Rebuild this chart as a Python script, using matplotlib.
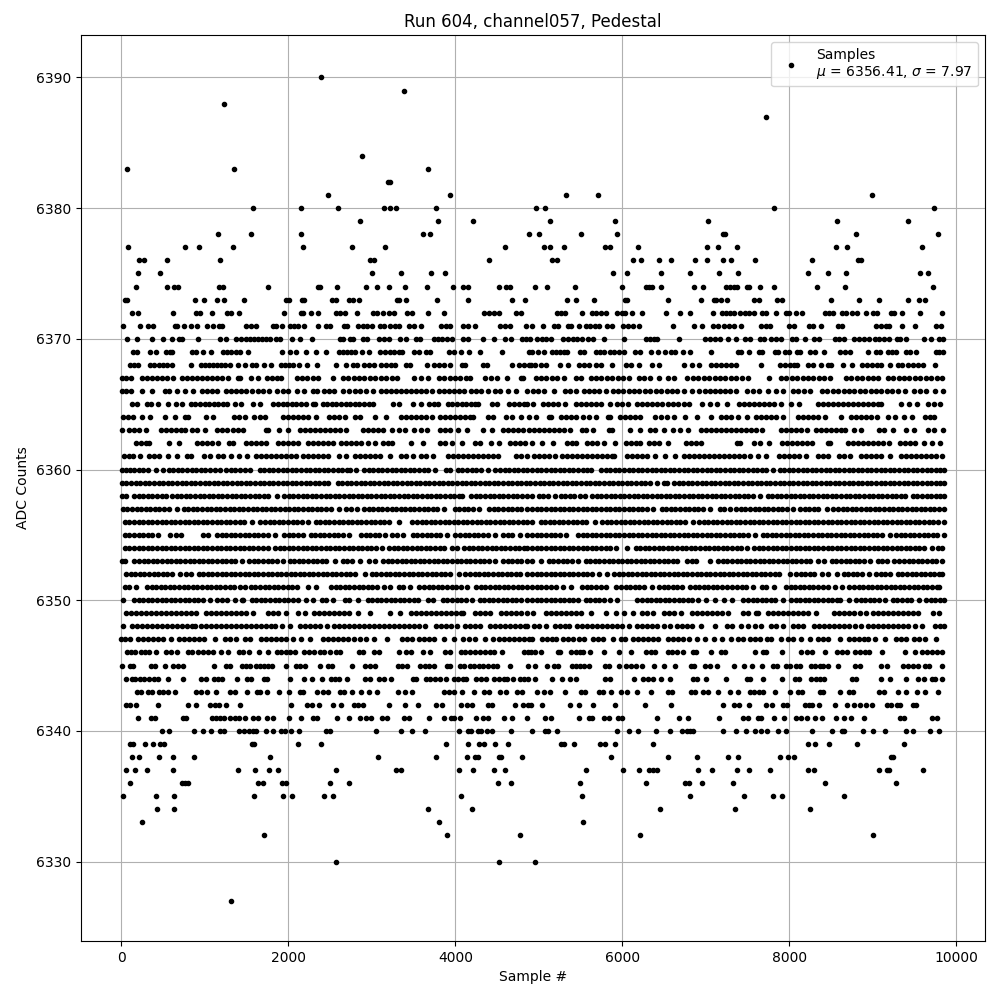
import numpy as np
import matplotlib
matplotlib.use("Agg")
import matplotlib.pyplot as plt

# sample numbers, one list per ADC level
s6390 = [2386]
s6389 = [3382]
s6388 = [1234]
s6387 = [7723]
s6384 = [2878]
s6383 = [70, 1342, 3670]
s6382 = [3190, 3214]
s6381 = [2470, 3934, 5329, 5712, 8992]
s6380 = [1570, 2146, 2590, 3142, 3214, 3286, 3766, 4970, 5078, 7819, 9734]
s6379 = [2854, 3790, 4210, 5137, 5915, 7029, 8573, 9423]
s6378 = [1162, 1546, 2146, 3610, 3694, 4882, 5006, 5509, 5940, 7208, 7232, 8800, 9782]
s6377 = [82, 766, 934, 1330, 2170, 2758, 3154, 4594, 5062, 5133, 5305, 5796, 5856, 6191, 7017,
         7149, 7376, 8561, 8693, 9590]
s6376 = [214, 274, 550, 1186, 2974, 3022, 4402, 5161, 5221, 6131, 6227, 6442, 6586, 6873, 7017,
         7208, 7304, 7591, 8273, 8824, 8860]
s6375 = [202, 466, 2998, 3346, 3706, 3874, 5892, 6059, 6466, 6813, 7161, 7388, 8225, 8465, 8680,
         9566, 9662]
s6374 = [178, 550, 634, 682, 1174, 1222, 1750, 2350, 2374, 2578, 2926, 3058, 3202, 3394, 3658,
         3970, 4090, 4150, 4522, 4606, 4654, 4958, 5101, 5437, 6000, 6286, 6322, 6358, 6466, 6861,
         6969, 7244, 7292, 7340, 7376, 7496, 7520, 7651, 7819, 8333, 8668, 9722]
s6373 = [46, 70, 886, 994, 1150, 1234, 1462, 1966, 2002, 2158, 2182, 2518, 2566, 2722, 2770, 2842,
         3298, 3322, 3406, 3778, 4150, 4678, 4834, 5341, 5449, 5664, 6035, 6059, 6550, 6945, 7100,
         7124, 7184, 7256, 7579, 7639, 7855, 7914, 8501, 8836, 9075, 9423, 9554, 9626]
s6372 = [130, 202, 622, 898, 946, 1090, 1270, 1318, 1402, 1942, 2146, 2170, 2266, 2350, 2566, 2614,
         2674, 2818, 3010, 3058, 3130, 3202, 3262, 3418, 3478, 3670, 3862, 4342, 4402, 4462, 4522,
         4726, 4786, 5221, 5269, 5317, 5520, 5640, 5688, 5748, 5808, 5939, 5999, 6035, 6119, 6239,
         6526, 6694, 6813, 7089, 7197, 7244, 7292, 7340, 7412, 7472, 7520, 7579, 7675, 7723, 7843,
         7962, 7998, 8082, 8154, 8430, 8477, 8525, 8633, 8680, 8752, 8812, 8920, 9004, 9052, 9219,
         9255, 9351, 9566, 9830]
s6371 = [22, 226, 322, 382, 646, 670, 754, 838, 910, 1030, 1102, 1174, 1210, 1486, 1546, 1606, 1810,
         1846, 1918, 2014, 2062, 2110, 2182, 2350, 2446, 2494, 2662, 2698, 2830, 2890, 2938, 2998,
         3094, 3142, 3214, 3274, 3322, 3442, 3502, 3586, 3826, 3886, 3934, 4090, 4150, 4234, 4534,
         4594, 4654, 4846, 4922, 5054, 5186, 5233, 5353, 5389, 5484, 5568, 5616, 5676, 5724, 5820,
         5880, 6011, 6071, 6131, 6203, 6610, 6861, 6957, 7089, 7149, 7220, 7280, 7340, 7424, 7663,
         7723, 7771, 7998, 8058, 8238, 8285, 8381, 8585, 8633, 9040, 9100, 9159, 9195, 9351, 9506,
         9758, 9818]
s6370 = [70, 190, 370, 502, 610, 694, 730, 922, 1186, 1258, 1374, 1426, 1486, 1534, 1582, 1630,
         1678, 1726, 1774, 1846, 1894, 2038, 2134, 2278, 2614, 2650, 2734, 2770, 2890, 2938, 3082,
         3142, 3202, 3334, 3406, 3526, 3574, 3742, 3790, 3838, 3898, 3958, 4090, 4150, 4330, 4462,
         4594, 4666, 4798, 4846, 4894, 4982, 5042, 5090, 5150, 5294, 5354, 5414, 5462, 5522, 5594,
         5654, 5786, 6026, 6278, 6326, 6374, 6410, 6674, 6986, 7046, 7106, 7166, 7262, 7358, 7466,
         7526, 7646, 7694, 7778, 7838, 7898, 8030, 8078, 8186, 8294, 8354, 8546, 8594, 8654, 8774,
         8834, 8894, 8954, 9026, 9074, 9134, 9194, 9290, 9326, 9398, 9614, 9698, 9794, 9842]
s6369 = [142, 190, 346, 418, 538, 586, 610, 850, 898, 982, 1078, 1222, 1270, 1318, 1366, 1414, 1510,
         1918, 2014, 2086, 2214, 2326, 2446, 2602, 2650, 2698, 2746, 2794, 2878, 2962, 3094, 3154,
         3214, 3262, 3322, 3358, 3502, 3562, 3646, 3694, 3922, 3982, 4066, 4162, 4294, 4558, 4882,
         4922, 4994, 5066, 5162, 5210, 5258, 5306, 5342, 5498, 5546, 5690, 5738, 5786, 5858, 5906,
         5966, 6026, 6146, 6206, 6338, 6422, 6506, 6578, 6626, 6722, 6806, 7058, 7382, 7418, 7514,
         7634, 7670, 7826, 7862, 7946, 7994, 8090, 8126, 8246, 8306, 8414, 8606, 8666, 8726, 8942,
         9038, 9086, 9182, 9230, 9278, 9398, 9446, 9518, 9758, 9794, 9842]
s6368 = [106, 154, 202, 346, 394, 454, 502, 550, 610, 838, 958, 1006, 1054, 1102, 1150, 1198, 1246,
         1306, 1390, 1474, 1558, 1606, 1702, 1786, 1906, 1954, 2002, 2050, 2122, 2218, 2338, 2566,
         2686, 2770, 2818, 2902, 2962, 3022, 3106, 3166, 3226, 3274, 3406, 3454, 3658, 3742, 3802,
         3862, 3934, 4078, 4114, 4330, 4378, 4678, 4762, 4822, 4882, 4910, 4958, 5030, 5090, 5258,
         5354, 5486, 5546, 5606, 5690, 5750, 5882, 6050, 6110, 6194, 6350, 6434, 6734, 6830, 6914,
         7058, 7118, 7178, 7238, 7298, 7358, 7658, 7886, 7946, 8006, 8054, 8090, 8222, 8282, 8378,
         8462, 8498, 8642, 8750, 8870, 8930, 8990, 9050, 9098, 9206, 9302, 9350, 9422, 9482, 9542,
         9602, 9746]
s6367 = [10, 60, 110, 250, 310, 370, 430, 490, 550, 615, 730, 790, 850, 910, 970, 1030, 1090, 1150,
         1210, 1275, 1395, 1425, 1550, 1630, 1740, 1800, 1860, 1915, 2100, 2160, 2220, 2290, 2355,
         2530, 2650, 2715, 2780, 2845, 2910, 2975, 3040, 3105, 3170, 3235, 3295, 3510, 3590, 3675,
         3800, 3865, 3930, 3995, 4060, 4130, 4175, 4360, 4430, 4495, 4614, 4790, 4815, 4960, 5025,
         5090, 5155, 5220, 5305, 5440, 5505, 5620, 5685, 5750, 5815, 5880, 5945, 6010, 6085, 6200,
         6265, 6330, 6445, 6550, 6625, 6780, 6845, 6910, 6975, 7040, 7105, 7170, 7235, 7300, 7365,
         7430, 7505, 7754, 7900, 7965, 8030, 8095, 8160, 8225, 8290, 8355, 8420, 8485, 8680, 8745,
         8810, 8875, 8940, 9005, 9065, 9180, 9245, 9310, 9375, 9440, 9505, 9570, 9635, 9700, 9765,
         9825]
s6366 = [10, 50, 110, 242, 370, 522, 570, 670, 762, 860, 960, 1020, 1080, 1140, 1250, 1310, 1370,
         1430, 1490, 1560, 1640, 1700, 1770, 1860, 1930, 2000, 2102, 2182, 2290, 2340, 2430, 2490,
         2550, 2650, 2730, 2800, 2860, 2930, 3010, 3110, 3170, 3230, 3290, 3350, 3410, 3470, 3530,
         3590, 3650, 3720, 3800, 3860, 3920, 3980, 4040, 4100, 4190, 4250, 4310, 4390, 4480, 4540,
         4630, 4722, 4862, 4930, 4990, 5060, 5186, 5310, 5370, 5440, 5540, 5600, 5660, 5720, 5800,
         5890, 5950, 6010, 6075, 6140, 6205, 6270, 6335, 6400, 6465, 6530, 6595, 6660, 6740, 6830,
         6920, 6990, 7050, 7110, 7170, 7230, 7290, 7360, 7490, 7560, 7640, 7740, 7840, 7930, 8040,
         8110, 8180, 8250, 8390, 8455, 8520, 8585, 8650, 8715, 8780, 8845, 8910, 8975, 9040, 9105,
         9170, 9235, 9300, 9390, 9500, 9570, 9640, 9750, 9846]
s6365 = [130, 190, 300, 350, 442, 562, 650, 720, 830, 885, 940, 995, 1050, 1105, 1160, 1215, 1260,
         1360, 1430, 1580, 1660, 1820, 1875, 1930, 1985, 2040, 2095, 2150, 2205, 2290, 2320, 2410,
         2465, 2520, 2575, 2630, 2685, 2740, 2795, 2850, 2905, 2960, 3010, 3250, 3330, 3490, 3590,
         3680, 3740, 3795, 3910, 3965, 4020, 4075, 4130, 4185, 4240, 4275, 4440, 4495, 4640, 4700,
         4760, 4820, 4860, 4934, 5050, 5110, 5170, 5230, 5310, 5450, 5510, 5570, 5630, 5690, 5750,
         5850, 5940, 6000, 6070, 6170, 6230, 6290, 6350, 6410, 6470, 6550, 6610, 6670, 6740, 6800,
         6960, 7050, 7134, 7254, 7400, 7460, 7520, 7580, 7640, 7700, 7760, 7820, 7905, 8020, 8115,
         8340, 8400, 8460, 8520, 8580, 8640, 8700, 8760, 8820, 8880, 8940, 9000, 9060, 9100, 9340,
         9430, 9534, 9660, 9730, 9810]
s6364 = [22, 82, 142, 242, 342, 522, 642, 760, 800, 1010, 1095, 1350, 1410, 1475, 1582, 1662, 1722,
         1930, 1990, 2050, 2110, 2170, 2230, 2335, 2490, 2550, 2610, 2675, 2795, 2855, 3042, 3174,
         3350, 3410, 3470, 3530, 3590, 3650, 3715, 3810, 3870, 3930, 3990, 4050, 4110, 4170, 4215,
         4390, 4455, 4610, 4675, 4790, 4882, 4970, 5120, 5150, 5260, 5320, 5380, 5440, 5530, 5600,
         5690, 5830, 5850, 5970, 6030, 6090, 6150, 6210, 6390, 6460, 6530, 6614, 6754, 6894, 7062,
         7180, 7240, 7300, 7390, 7494, 7600, 7660, 7720, 7780, 7840, 7930, 8100, 8160, 8220, 8280,
         8350, 8434, 8614, 8740, 8800, 8860, 8920, 8980, 9050, 9180, 9270, 9374, 9474, 9630, 9690,
         9730]
s6363 = [2, 90, 150, 210, 295, 470, 530, 590, 650, 710, 760, 850, 910, 995, 1150, 1210, 1270, 1330,
         1390, 1460, 1730, 1760, 1890, 1995, 2140, 2200, 2260, 2320, 2380, 2440, 2500, 2560, 2620,
         2685, 2890, 2950, 3010, 3070, 3130, 3235, 3322, 3402, 3510, 3590, 3655, 3810, 3870, 3930,
         4035, 4142, 4334, 4442, 4570, 4630, 4690, 4750, 4810, 4880, 4940, 5000, 5060, 5120, 5180,
         5240, 5300, 5370, 5520, 5560, 5654, 5840, 5880, 6094, 6214, 6326, 6394, 6494, 6606, 6694,
         6782, 6940, 7000, 7060, 7120, 7180, 7240, 7300, 7360, 7420, 7480, 7540, 7600, 7670, 7900,
         7960, 8020, 8080, 8140, 8210, 8320, 8380, 8440, 8500, 8560, 8620, 8670, 8774, 8854, 9080,
         9140, 9240, 9394, 9494, 9660, 9730, 9846]
s6362 = [170, 230, 290, 335, 574, 694, 900, 960, 1020, 1080, 1155, 1290, 1335, 1490, 1550, 1610,
         1670, 1735, 1870, 1930, 1990, 2050, 2115, 2230, 2290, 2350, 2410, 2470, 2535, 2630, 2690,
         2750, 2810, 2870, 2955, 3042, 3130, 3190, 3235, 3470, 3610, 3815, 3875, 3955, 4080, 4230,
         4295, 4422, 4522, 4650, 4710, 4770, 4835, 4915, 5034, 5174, 5340, 5400, 5445, 5580, 5640,
         5700, 5785, 5914, 6040, 6100, 6160, 6210, 6320, 6380, 6440, 6550, 6760, 6820, 6880, 6940,
         7370, 7410, 7580, 7650, 7754, 7910, 7970, 8030, 8090, 8150, 8210, 8270, 8460, 8490, 8700,
         8760, 8820, 8880, 8940, 9000, 9060, 9120, 9190, 9330, 9390, 9450, 9510, 9620, 9710, 9806]
s6361 = [30, 90, 135, 222, 330, 390, 450, 555, 662, 790, 835, 990, 1055, 1160, 1220, 1315, 1402,
         1502, 1610, 1670, 1730, 1790, 1850, 1910, 1970, 2030, 2095, 2180, 2240, 2300, 2360, 2420,
         2475, 2600, 2695, 2800, 2860, 2920, 2980, 3040, 3095, 3222, 3350, 3410, 3495, 3590, 3650,
         3735, 3910, 3970, 4030, 4090, 4150, 4210, 4270, 4330, 4390, 4450, 4515, 4730, 4790, 4855,
         4940, 5000, 5060, 5120, 5190, 5280, 5340, 5400, 5460, 5520, 5580, 5640, 5700, 5760, 5820,
         5880, 5905, 6060, 6120, 6180, 6240, 6300, 6395, 6514, 6634, 6740, 6800, 6860, 6920, 6980,
         7040, 7100, 7160, 7220, 7280, 7340, 7400, 7460, 7525, 7620, 7725, 7880, 7940, 8000, 8060,
         8120, 8205, 8340, 8400, 8465, 8600, 8660, 8725, 8860, 8920, 8980, 9040, 9100, 9205, 9340,
         9400, 9460, 9520, 9580, 9640, 9700, 9760, 9825]
s6360 = [5, 55, 105, 155, 205, 255, 315, 410, 495, 565, 620, 675, 730, 785, 840, 895, 950, 1005,
         1060, 1115, 1175, 1255, 1310, 1365, 1420, 1475, 1535, 1655, 1710, 1765, 1820, 1875, 1930,
         1985, 2040, 2095, 2150, 2205, 2260, 2315, 2370, 2425, 2480, 2535, 2590, 2645, 2700, 2735,
         2814, 2905, 2960, 3015, 3070, 3125, 3180, 3235, 3290, 3345, 3400, 3455, 3510, 3565, 3620,
         3675, 3755, 3890, 3935, 4030, 4085, 4140, 4195, 4250, 4305, 4395, 4480, 4535, 4590, 4645,
         4700, 4755, 4810, 4855, 4920, 4975, 5030, 5085, 5140, 5195, 5250, 5305, 5360, 5415, 5470,
         5525, 5580, 5630, 5745, 5800, 5855, 5910, 5965, 6020, 6075, 6130, 6185, 6240, 6295, 6350,
         6405, 6460, 6515, 6570, 6625, 6680, 6735, 6790, 6845, 6900, 6955, 7010, 7065, 7120, 7175,
         7230, 7285, 7340, 7395, 7450, 7505, 7560, 7615, 7670, 7725, 7810, 7885, 7940, 7995, 8050,
         8105, 8160, 8215, 8270, 8325, 8380, 8435, 8490, 8545, 8600, 8655, 8710, 8765, 8820, 8875,
         8930, 8985, 9040, 9095, 9150, 9205, 9260, 9315, 9370, 9425, 9480, 9535, 9590, 9645, 9700,
         9755, 9810, 9855]
s6359 = [5, 60, 115, 170, 225, 280, 335, 390, 445, 500, 555, 610, 665, 720, 775, 830, 885, 940, 995,
         1050, 1105, 1160, 1215, 1270, 1325, 1380, 1435, 1490, 1545, 1600, 1655, 1710, 1765, 1820,
         1875, 1930, 1985, 2040, 2095, 2150, 2205, 2260, 2315, 2370, 2425, 2480, 2590, 2645, 2700,
         2755, 2810, 2865, 2920, 2975, 3030, 3085, 3140, 3195, 3250, 3305, 3360, 3415, 3470, 3525,
         3580, 3635, 3690, 3745, 3800, 3855, 3910, 3965, 4020, 4075, 4130, 4185, 4240, 4295, 4350,
         4405, 4460, 4515, 4570, 4625, 4680, 4735, 4790, 4845, 4900, 4955, 5010, 5065, 5120, 5175,
         5230, 5285, 5340, 5395, 5450, 5505, 5560, 5615, 5670, 5725, 5780, 5835, 5890, 5945, 6000,
         6055, 6110, 6165, 6220, 6275, 6330, 6410, 6500, 6530, 6620, 6675, 6730, 6785, 6840, 6895,
         6950, 7005, 7060, 7115, 7170, 7225, 7280, 7335, 7390, 7445, 7500, 7555, 7610, 7665, 7720,
         7775, 7830, 7885, 7940, 7995, 8050, 8105, 8160, 8215, 8270, 8325, 8380, 8435, 8490, 8545,
         8600, 8655, 8710, 8765, 8820, 8875, 8930, 8985, 9040, 9095, 9150, 9205, 9260, 9315, 9370,
         9425, 9480, 9535, 9590, 9645, 9700, 9755, 9810, 9855]
s6358 = [10, 60, 150, 205, 260, 315, 370, 425, 480, 535, 605, 660, 715, 770, 825, 880, 935, 990,
         1045, 1100, 1155, 1210, 1265, 1320, 1375, 1430, 1485, 1540, 1595, 1650, 1705, 1760, 1860,
         1950, 2005, 2060, 2115, 2170, 2225, 2280, 2335, 2390, 2445, 2500, 2555, 2610, 2665, 2720,
         2775, 2830, 2885, 2940, 2995, 3050, 3105, 3160, 3215, 3270, 3325, 3380, 3435, 3490, 3545,
         3600, 3655, 3710, 3765, 3820, 3875, 3930, 3985, 4040, 4080, 4190, 4245, 4300, 4355, 4410,
         4465, 4520, 4575, 4630, 4685, 4740, 4795, 4860, 4914, 5000, 5055, 5110, 5190, 5260, 5315,
         5370, 5425, 5490, 5554, 5640, 5695, 5750, 5805, 5860, 5915, 5970, 6025, 6080, 6135, 6190,
         6245, 6300, 6355, 6410, 6465, 6520, 6575, 6630, 6685, 6740, 6795, 6850, 6905, 6960, 7015,
         7070, 7125, 7180, 7235, 7290, 7345, 7400, 7455, 7510, 7565, 7650, 7740, 7795, 7850, 7905,
         7960, 8015, 8070, 8125, 8180, 8235, 8290, 8345, 8400, 8455, 8510, 8565, 8620, 8675, 8730,
         8785, 8840, 8895, 8950, 9005, 9060, 9115, 9170, 9225, 9280, 9335, 9390, 9480, 9535, 9590,
         9645, 9700, 9755, 9810, 9850]
s6357 = [15, 70, 125, 180, 235, 290, 345, 400, 455, 510, 565, 660, 745, 800, 855, 910, 965, 1020,
         1075, 1130, 1185, 1240, 1295, 1350, 1405, 1460, 1515, 1570, 1625, 1680, 1735, 1790, 1845,
         1900, 1955, 2010, 2065, 2120, 2175, 2230, 2285, 2340, 2395, 2450, 2505, 2600, 2690, 2745,
         2820, 2905, 2960, 3015, 3070, 3125, 3180, 3235, 3290, 3345, 3400, 3455, 3510, 3565, 3620,
         3675, 3730, 3785, 3860, 3990, 4045, 4100, 4155, 4210, 4280, 4405, 4460, 4515, 4570, 4625,
         4680, 4735, 4790, 4860, 4920, 4975, 5030, 5085, 5140, 5195, 5250, 5305, 5360, 5415, 5470,
         5525, 5580, 5635, 5690, 5745, 5800, 5855, 5910, 5965, 6020, 6075, 6130, 6185, 6240, 6295,
         6370, 6470, 6525, 6580, 6635, 6690, 6745, 6800, 6855, 6910, 6965, 7050, 7165, 7220, 7290,
         7365, 7420, 7475, 7530, 7585, 7640, 7695, 7750, 7805, 7860, 7915, 7970, 8050, 8130, 8185,
         8240, 8295, 8350, 8450, 8530, 8585, 8640, 8695, 8750, 8805, 8860, 8915, 8970, 9025, 9080,
         9135, 9190, 9245, 9300, 9355, 9410, 9465, 9520, 9575, 9630, 9685, 9740, 9795, 9850]
s6356 = [40, 95, 150, 205, 260, 315, 370, 425, 480, 535, 590, 645, 700, 755, 810, 865, 920, 975,
         1030, 1085, 1140, 1195, 1250, 1305, 1360, 1415, 1470, 1560, 1665, 1720, 1775, 1830, 1885,
         1940, 1995, 2050, 2105, 2160, 2240, 2325, 2380, 2435, 2490, 2545, 2600, 2655, 2710, 2765,
         2820, 2875, 2930, 2985, 3040, 3095, 3150, 3205, 3320, 3485, 3540, 3595, 3650, 3705, 3760,
         3815, 3870, 3925, 3980, 4035, 4090, 4145, 4200, 4255, 4310, 4365, 4420, 4475, 4530, 4585,
         4640, 4695, 4750, 4805, 4860, 4914, 5020, 5075, 5130, 5185, 5240, 5295, 5350, 5405, 5460,
         5515, 5570, 5670, 5760, 5815, 5870, 5925, 5980, 6035, 6090, 6145, 6200, 6255, 6310, 6365,
         6420, 6475, 6530, 6585, 6640, 6695, 6750, 6850, 6920, 6975, 7030, 7085, 7140, 7195, 7250,
         7305, 7360, 7415, 7470, 7525, 7580, 7635, 7690, 7745, 7800, 7855, 7910, 7965, 8020, 8075,
         8130, 8185, 8240, 8295, 8350, 8405, 8460, 8515, 8570, 8625, 8680, 8735, 8790, 8845, 8900,
         8955, 9010, 9065, 9120, 9175, 9230, 9285, 9340, 9395, 9450, 9505, 9560, 9615, 9670, 9725,
         9780, 9850]
s6355 = [40, 95, 150, 205, 260, 315, 370, 440, 582, 650, 715, 975, 1035, 1145, 1200, 1255, 1310,
         1365, 1420, 1475, 1530, 1585, 1640, 1695, 1750, 1840, 1950, 2005, 2060, 2115, 2170, 2265,
         2320, 2375, 2430, 2485, 2540, 2595, 2650, 2720, 2870, 2925, 2980, 3035, 3090, 3155, 3240,
         3295, 3375, 3490, 3545, 3600, 3655, 3710, 3765, 3820, 3895, 4000, 4055, 4110, 4165, 4220,
         4275, 4330, 4385, 4480, 4570, 4625, 4680, 4775, 4862, 4920, 4975, 5030, 5085, 5140, 5195,
         5250, 5330, 5470, 5525, 5580, 5635, 5690, 5745, 5800, 5855, 5910, 5965, 6020, 6075, 6130,
         6185, 6240, 6295, 6350, 6405, 6460, 6515, 6570, 6625, 6680, 6735, 6790, 6845, 6900, 6955,
         7010, 7065, 7120, 7175, 7230, 7285, 7340, 7395, 7450, 7505, 7590, 7680, 7735, 7790, 7845,
         7900, 7955, 8010, 8065, 8120, 8175, 8230, 8285, 8340, 8395, 8450, 8505, 8560, 8615, 8670,
         8725, 8780, 8835, 8890, 8945, 9000, 9055, 9110, 9210, 9280, 9335, 9390, 9445, 9500, 9555,
         9610, 9665, 9720, 9775, 9850]
s6354 = [40, 95, 150, 205, 260, 315, 370, 425, 480, 535, 590, 645, 700, 755, 810, 865, 920, 975,
         1030, 1085, 1140, 1195, 1250, 1305, 1360, 1415, 1470, 1525, 1580, 1635, 1690, 1755, 1840,
         1895, 1950, 2005, 2060, 2115, 2170, 2225, 2280, 2335, 2390, 2445, 2500, 2555, 2610, 2665,
         2720, 2775, 2830, 2885, 2940, 2995, 3050, 3120, 3205, 3260, 3315, 3370, 3425, 3480, 3535,
         3590, 3645, 3700, 3755, 3810, 3865, 3965, 4022, 4105, 4160, 4215, 4270, 4325, 4380, 4435,
         4490, 4545, 4600, 4655, 4710, 4765, 4820, 4860, 4920, 4975, 5030, 5085, 5140, 5195, 5250,
         5305, 5360, 5415, 5470, 5525, 5580, 5635, 5690, 5745, 5800, 5855, 5930, 6054, 6160, 6215,
         6270, 6325, 6380, 6435, 6490, 6545, 6600, 6655, 6710, 6765, 6820, 6875, 6930, 6985, 7040,
         7095, 7150, 7205, 7260, 7315, 7370, 7425, 7490, 7580, 7635, 7690, 7745, 7800, 7855, 7910,
         7965, 8020, 8075, 8130, 8185, 8240, 8295, 8350, 8405, 8460, 8515, 8570, 8625, 8680, 8735,
         8790, 8845, 8900, 8955, 9010, 9065, 9120, 9175, 9230, 9285, 9340, 9395, 9450, 9505, 9550,
         9614, 9714, 9780, 9830]
s6353 = [10, 45, 155, 210, 265, 320, 375, 430, 485, 540, 595, 650, 705, 760, 815, 870, 925, 980,
         1035, 1090, 1145, 1200, 1255, 1310, 1365, 1440, 1530, 1585, 1640, 1695, 1750, 1805, 1860,
         1934, 2015, 2070, 2125, 2180, 2235, 2290, 2345, 2400, 2455, 2560, 2650, 2705, 2760, 2855,
         2970, 3035, 3135, 3190, 3245, 3300, 3355, 3410, 3465, 3520, 3575, 3630, 3685, 3740, 3795,
         3850, 3905, 3960, 4015, 4070, 4125, 4180, 4235, 4290, 4345, 4400, 4480, 4570, 4625, 4680,
         4735, 4790, 4860, 4920, 5030, 5120, 5175, 5230, 5285, 5340, 5395, 5470, 5560, 5615, 5670,
         5725, 5780, 5835, 5890, 5945, 6000, 6055, 6110, 6165, 6220, 6275, 6330, 6385, 6440, 6495,
         6550, 6605, 6660, 6770, 6830, 6885, 7050, 7150, 7205, 7260, 7315, 7370, 7425, 7480, 7535,
         7590, 7645, 7700, 7755, 7810, 7865, 7920, 7975, 8030, 8085, 8140, 8195, 8250, 8350, 8414,
         8510, 8565, 8620, 8675, 8730, 8785, 8840, 8895, 8970, 9060, 9115, 9170, 9250, 9320, 9375,
         9430, 9485, 9540, 9595, 9650, 9705, 9760, 9830]
s6352 = [55, 110, 165, 220, 275, 330, 385, 440, 495, 550, 605, 700, 770, 835, 925, 980, 1035, 1090,
         1145, 1200, 1255, 1310, 1365, 1420, 1475, 1530, 1585, 1640, 1695, 1750, 1805, 1860, 1915,
         1970, 2025, 2080, 2135, 2190, 2245, 2300, 2355, 2410, 2465, 2520, 2575, 2630, 2685, 2740,
         2795, 2920, 3000, 3055, 3110, 3165, 3220, 3275, 3330, 3385, 3440, 3495, 3550, 3605, 3660,
         3715, 3770, 3825, 3880, 3935, 4040, 4120, 4175, 4230, 4285, 4340, 4395, 4450, 4505, 4560,
         4615, 4670, 4725, 4780, 4860, 4920, 4975, 5030, 5085, 5140, 5195, 5250, 5305, 5360, 5415,
         5470, 5525, 5580, 5635, 5720, 5814, 5900, 5955, 6010, 6065, 6120, 6175, 6230, 6285, 6340,
         6395, 6450, 6505, 6560, 6615, 6670, 6725, 6780, 6835, 6890, 6945, 7000, 7055, 7110, 7165,
         7220, 7275, 7330, 7385, 7440, 7495, 7550, 7605, 7660, 7715, 7770, 7825, 7880, 8010, 8080,
         8135, 8190, 8245, 8300, 8390, 8460, 8570, 8650, 8705, 8760, 8815, 8870, 8950, 9040, 9095,
         9150, 9210, 9300, 9355, 9410, 9465, 9520, 9575, 9630, 9685, 9740, 9795, 9830]
s6351 = [40, 95, 175, 305, 360, 415, 470, 525, 580, 635, 690, 745, 800, 855, 910, 965, 1020, 1075,
         1130, 1185, 1240, 1295, 1342, 1422, 1482, 1550, 1605, 1660, 1715, 1770, 1825, 1880, 1935,
         1990, 2045, 2100, 2230, 2335, 2510, 2565, 2620, 2675, 2730, 2785, 2840, 2895, 2950, 3005,
         3060, 3140, 3215, 3320, 3375, 3455, 3570, 3625, 3680, 3735, 3790, 3845, 3900, 3955, 4010,
         4065, 4140, 4250, 4305, 4360, 4415, 4470, 4525, 4580, 4635, 4690, 4745, 4800, 4860, 4920,
         4975, 5030, 5085, 5140, 5205, 5294, 5382, 5520, 5575, 5630, 5685, 5740, 5810, 5930, 5985,
         6040, 6095, 6150, 6205, 6260, 6350, 6440, 6495, 6550, 6605, 6660, 6710, 6810, 6865, 6920,
         6975, 7030, 7085, 7140, 7195, 7250, 7320, 7375, 7430, 7485, 7570, 7670, 7725, 7820, 7960,
         8015, 8070, 8125, 8180, 8235, 8290, 8345, 8400, 8470, 8550, 8630, 8720, 8775, 8830, 8885,
         8940, 8995, 9050, 9105, 9160, 9215, 9270, 9325, 9380, 9435, 9490, 9545, 9600, 9655, 9710,
         9765, 9790]
s6350 = [14, 150, 205, 260, 315, 370, 425, 480, 535, 590, 645, 700, 755, 810, 865, 920, 975, 1055,
         1150, 1205, 1260, 1355, 1440, 1460, 1560, 1615, 1670, 1725, 1780, 1835, 1890, 1945, 2000,
         2055, 2120, 2210, 2295, 2400, 2455, 2535, 2675, 2730, 2835, 2950, 3005, 3060, 3115, 3170,
         3225, 3280, 3335, 3390, 3445, 3500, 3555, 3670, 3735, 3850, 3905, 3960, 4015, 4070, 4125,
         4195, 4290, 4345, 4400, 4455, 4510, 4565, 4620, 4675, 4730, 4785, 4860, 4920, 4975, 5030,
         5085, 5140, 5195, 5250, 5305, 5360, 5415, 5470, 5560, 5615, 5670, 5725, 5780, 5850, 5942,
         6180, 6235, 6290, 6345, 6400, 6455, 6510, 6565, 6620, 6675, 6730, 6785, 6840, 6910, 7006,
         7114, 7222, 7314, 7450, 7505, 7560, 7615, 7670, 7725, 7780, 7835, 7930, 8020, 8075, 8130,
         8185, 8240, 8295, 8350, 8405, 8460, 8515, 8570, 8610, 8714, 8800, 8855, 8910, 8965, 9020,
         9075, 9150, 9240, 9295, 9350, 9405, 9460, 9550, 9640, 9695, 9750, 9805, 9855]
s6349 = [55, 115, 175, 235, 295, 355, 415, 475, 535, 595, 655, 715, 775, 835, 895, 1015, 1075, 1135,
         1195, 1255, 1315, 1375, 1435, 1495, 1575, 1760, 1820, 1880, 1975, 2110, 2195, 2310, 2370,
         2430, 2490, 2550, 2610, 2670, 2730, 2835, 2974, 3215, 3335, 3470, 3530, 3590, 3650, 3710,
         3770, 3830, 3890, 3950, 4010, 4070, 4095, 4230, 4290, 4350, 4415, 4550, 4610, 4670, 4730,
         4790, 4860, 4926, 5080, 5140, 5200, 5260, 5320, 5380, 5440, 5505, 5626, 5810, 5925, 6020,
         6125, 6240, 6300, 6365, 6500, 6560, 6620, 6705, 6830, 6890, 6950, 7010, 7070, 7130, 7190,
         7265, 7440, 7505, 7600, 7625, 7740, 7800, 7860, 7920, 7980, 8040, 8100, 8160, 8220, 8315,
         8540, 8600, 8660, 8720, 8780, 8845, 8914, 9000, 9060, 9120, 9180, 9240, 9300, 9360, 9420,
         9480, 9545, 9720, 9795]
s6348 = [14, 120, 180, 240, 300, 360, 420, 480, 540, 600, 660, 720, 780, 840, 875, 950, 1010, 1070,
         1130, 1190, 1250, 1310, 1370, 1430, 1490, 1550, 1610, 1670, 1730, 1790, 1835, 1920, 2015,
         2135, 2195, 2255, 2315, 2375, 2462, 2550, 2610, 2670, 2730, 2790, 2850, 2910, 2970, 3030,
         3090, 3150, 3210, 3270, 3330, 3390, 3450, 3510, 3570, 3635, 3770, 3830, 3890, 3950, 4015,
         4115, 4175, 4235, 4295, 4410, 4470, 4530, 4590, 4650, 4710, 4770, 4830, 4860, 4940, 5000,
         5085, 5190, 5250, 5310, 5365, 5460, 5520, 5580, 5640, 5700, 5760, 5820, 5880, 5940, 6000,
         6085, 6180, 6240, 6300, 6360, 6420, 6505, 6574, 6660, 6720, 6780, 6840, 6945, 7114, 7260,
         7320, 7425, 7502, 7590, 7665, 7780, 7840, 7925, 8040, 8100, 8165, 8300, 8360, 8420, 8480,
         8540, 8600, 8660, 8720, 8785, 8854, 8940, 9000, 9060, 9120, 9180, 9240, 9300, 9360, 9420,
         9505, 9594, 9750, 9810, 9855]
s6347 = [-2, 46, 106, 202, 262, 322, 382, 442, 502, 598, 694, 754, 814, 874, 934, 994, 1126, 1246,
         1306, 1366, 1474, 1534, 1666, 1726, 1786, 1846, 1906, 1966, 2050, 2146, 2254, 2410, 2470,
         2530, 2590, 2650, 2710, 2782, 2854, 2926, 3022, 3178, 3358, 3418, 3478, 3562, 3622, 3682,
         3742, 3862, 3982, 4090, 4162, 4234, 4354, 4450, 4522, 4582, 4642, 4702, 4762, 4822, 4882,
         4922, 5042, 5101, 5161, 5209, 5293, 5353, 5413, 5484, 5544, 5652, 5712, 5772, 5892, 5987,
         6035, 6131, 6191, 6250, 6310, 6370, 6430, 6550, 6610, 6669, 6729, 6801, 6897, 6993, 7100,
         7197, 7304, 7388, 7448, 7532, 7591, 7651, 7735, 7783, 7903, 7986, 8046, 8142, 8249, 8345,
         8405, 8465, 8609, 8717, 8776, 8836, 8896, 8944, 9028, 9147, 9279, 9339, 9399, 9494, 9554,
         9626, 9758]
s6346 = [70, 118, 166, 238, 286, 334, 418, 538, 598, 670, 802, 850, 922, 982, 1042, 1102, 1198, 1282,
         1402, 1450, 1522, 1642, 1750, 1858, 1906, 1966, 2014, 2074, 2182, 2242, 2302, 2374, 2422,
         2494, 2566, 2614, 2842, 2890, 3022, 3082, 3322, 3406, 3466, 3610, 3694, 3874, 3934, 4066,
         4114, 4174, 4234, 4294, 4354, 4414, 4462, 4558, 4822, 4870, 4910, 4958, 5030, 5233, 5257,
         5389, 5449, 5496, 5532, 5616, 5784, 5959, 6107, 6286, 6346, 6394, 6550, 6598, 6658, 6729,
         6849, 6885, 7065, 7184, 7232, 7591, 7687, 7723, 7914, 8142, 8214, 8273, 8430, 8573, 8633,
         8693, 8788, 8848, 8908, 8956, 9111, 9387, 9506, 9590, 9650, 9710, 9770, 9830]
s6345 = [10, 106, 142, 358, 406, 526, 622, 682, 742, 1114, 1258, 1306, 1438, 1486, 1534, 1606, 1654,
         1702, 1750, 1798, 1966, 2086, 2134, 2194, 2374, 2470, 2518, 2758, 2914, 2974, 3034, 3310,
         3358, 3418, 3574, 3634, 3682, 3742, 3898, 3934, 4054, 4102, 4174, 4222, 4282, 4330, 4390,
         4450, 4498, 4654, 4870, 4958, 5101, 5186, 5233, 5401, 5449, 5496, 5544, 5604, 5796, 5844,
         5963, 6047, 6107, 6167, 6239, 6382, 6502, 6634, 6825, 6861, 6993, 7053, 7136, 7340, 7460,
         7555, 7675, 7807, 7855, 7962, 8010, 8082, 8130, 8261, 8309, 8369, 8405, 8465, 8585, 8788,
         8848, 9100, 9171, 9363, 9423, 9483, 9542, 9626, 9674, 9830]
s6344 = [58, 130, 166, 226, 274, 334, 394, 442, 562, 742, 958, 1018, 1114, 1162, 1210, 1378, 1498,
         1546, 1702, 1738, 2014, 2182, 2278, 2398, 2506, 2554, 2602, 2698, 2914, 2974, 3082, 3142,
         3226, 3490, 3526, 3646, 3694, 3754, 3814, 3886, 3982, 4030, 4090, 4126, 4246, 4306, 4366,
         4462, 4522, 4582, 4618, 4690, 4774, 4822, 4870, 4958, 5161, 5281, 5377, 5449, 5796, 5856,
         6143, 6250, 6310, 6370, 6466, 6574, 6849, 6897, 7005, 7244, 7496, 7532, 7687, 7914, 8070,
         8118, 8261, 8321, 8369, 8417, 8752, 8800, 9100, 9207, 9399, 9542, 9614, 9710, 9746, 9830]
s6343 = [190, 238, 322, 370, 454, 502, 562, 646, 898, 958, 1030, 1138, 1306, 1354, 1498, 1618, 1654,
         1738, 1882, 2002, 2134, 2170, 2338, 2410, 2470, 2614, 2662, 2758, 2866, 2962, 3058, 3310,
         3394, 3478, 3862, 3922, 3982, 4078, 4222, 4342, 4402, 4534, 4606, 4738, 4798, 4982, 5066,
         5137, 5317, 5509, 5556, 5724, 5772, 5868, 5987, 6059, 6179, 6346, 6550, 6598, 6825, 6873,
         6969, 7029, 7149, 7292, 7388, 7532, 7579, 7639, 7687, 7831, 8010, 8106, 8154, 8369, 8405,
         8609, 8717, 8764, 9075, 9135, 9303, 9399, 9530, 9626, 9782]
s6342 = [58, 106, 178, 442, 802, 898, 1066, 1126, 1174, 1258, 1414, 2026, 2218, 2278, 2362, 2530,
         2626, 2782, 2830, 2890, 3202, 3394, 3550, 3766, 3838, 4066, 4138, 4198, 4390, 4438, 4714,
         4810, 4870, 4910, 5042, 5377, 5484, 5652, 5915, 6274, 6586, 7208, 7340, 7400, 7520, 7723,
         7795, 7926, 7974, 8190, 8238, 8273, 8357, 8549, 8693, 8776, 8848, 8920, 8992, 9171, 9219,
         9291, 9327, 9483, 9518]
s6341 = [202, 358, 406, 742, 778, 1090, 1138, 1186, 1234, 1306, 1354, 1402, 1474, 1570, 1630, 1738,
         1810, 2002, 2146, 2290, 2338, 2578, 2722, 2854, 2926, 2986, 3118, 3178, 3382, 3442, 3682,
         3862, 3946, 3982, 4054, 4246, 4330, 4390, 4582, 4678, 4858, 5078, 5149, 5484, 5604, 5640,
         5784, 5844, 5952, 6000, 6418, 6681, 6789, 7161, 7448, 7508, 7627, 7663, 7819, 7938, 8082,
         8142, 8214, 8309, 8393, 8561, 8657, 8741, 8896, 9327, 9375, 9710, 9770]
s6340 = [490, 574, 874, 982, 1078, 1186, 1234, 1402, 1462, 1522, 1570, 1606, 1726, 1810, 1906, 1954,
         2026, 2122, 2446, 2494, 3046, 3346, 3478, 3634, 4042, 4150, 4186, 4270, 4306, 4378, 4438,
         4666, 4922, 5078, 5113, 5221, 5939, 6083, 6191, 6406, 6574, 6718, 6777, 6813, 6849, 7208,
         7364, 7484, 7592, 7663, 7735, 7867, 7962, 8273, 8513, 8633, 8657, 8884, 9004, 9148, 9399,
         9483, 9686, 9794]
s6339 = [106, 142, 286, 382, 466, 514, 1558, 1582, 2110, 2386, 3886, 4150, 4282, 4342, 4474, 4630,
         5269, 5305, 5425, 5736, 5796, 5915, 6370, 8225, 8309, 8477, 8812, 9375]
s6338 = [130, 214, 454, 622, 874, 1774, 3070, 3766, 4138, 4234, 4270, 4522, 4546, 4798, 5868, 6550,
         6897, 7268, 7388, 7890, 7986, 8058, 9219, 9243]
s6337 = [58, 166, 310, 622, 1390, 1594, 1762, 1870, 2566, 3286, 3346, 4042, 4210, 4462, 4594, 5568,
         6011, 6203, 6322, 6370, 6418, 6909, 7077, 7376, 7520, 7771, 8225, 8297, 9075, 9171, 9195, 9602]
s6336 = [106, 730, 766, 802, 1630, 1690, 1918, 1966, 2494, 2722, 4510, 4666, 5496, 6286, 6753, 6801,
         6957, 7328, 8430, 9279]
s6335 = [22, 418, 634, 1582, 1930, 2038, 2422, 2530, 4066, 5520, 6813, 7460, 7807, 7914, 8657]
s6334 = [430, 634, 3670, 4198, 6454, 7352, 8250]
s6333 = [250, 3802, 5532]
s6332 = [1702, 3898, 4774, 6215, 9004]
s6330 = [2566, 4522, 4958]
s6327 = [1318]

levels = [6390, 6389, 6388, 6387, 6384, 6383, 6382, 6381, 6380, 6379, 6378, 6377, 6376, 6375, 6374,
          6373, 6372, 6371, 6370, 6369, 6368, 6367, 6366, 6365, 6364, 6363, 6362, 6361, 6360, 6359,
          6358, 6357, 6356, 6355, 6354, 6353, 6352, 6351, 6350, 6349, 6348, 6347, 6346, 6345, 6344,
          6343, 6342, 6341, 6340, 6339, 6338, 6337, 6336, 6335, 6334, 6333, 6332, 6330, 6327]
samples = [s6390, s6389, s6388, s6387, s6384, s6383, s6382, s6381, s6380, s6379, s6378, s6377, s6376,
           s6375, s6374, s6373, s6372, s6371, s6370, s6369, s6368, s6367, s6366, s6365, s6364, s6363,
           s6362, s6361, s6360, s6359, s6358, s6357, s6356, s6355, s6354, s6353, s6352, s6351, s6350,
           s6349, s6348, s6347, s6346, s6345, s6344, s6343, s6342, s6341, s6340, s6339, s6338, s6337,
           s6336, s6335, s6334, s6333, s6332, s6330, s6327]

x = np.concatenate([np.array(s, dtype=float) for s in samples])
y = np.concatenate([np.full(len(s), lev) for s, lev in zip(samples, levels)])

fig, ax = plt.subplots(figsize=(10, 10))
ax.plot(x, y, "k.", label="Samples\n$\\mu$ = 6356.41, $\\sigma$ = 7.97")
ax.set_xlim(-485, 10345)
ax.set_ylim(6323.92, 6393.25)
ax.set_title("Run 604, channel057, Pedestal")
ax.set_xlabel("Sample #")
ax.set_ylabel("ADC Counts")
ax.grid(True)
ax.legend(loc="upper right")
fig.subplots_adjust(left=0.081, right=0.985, top=0.965, bottom=0.059)
fig.savefig("out.png", dpi=100)
